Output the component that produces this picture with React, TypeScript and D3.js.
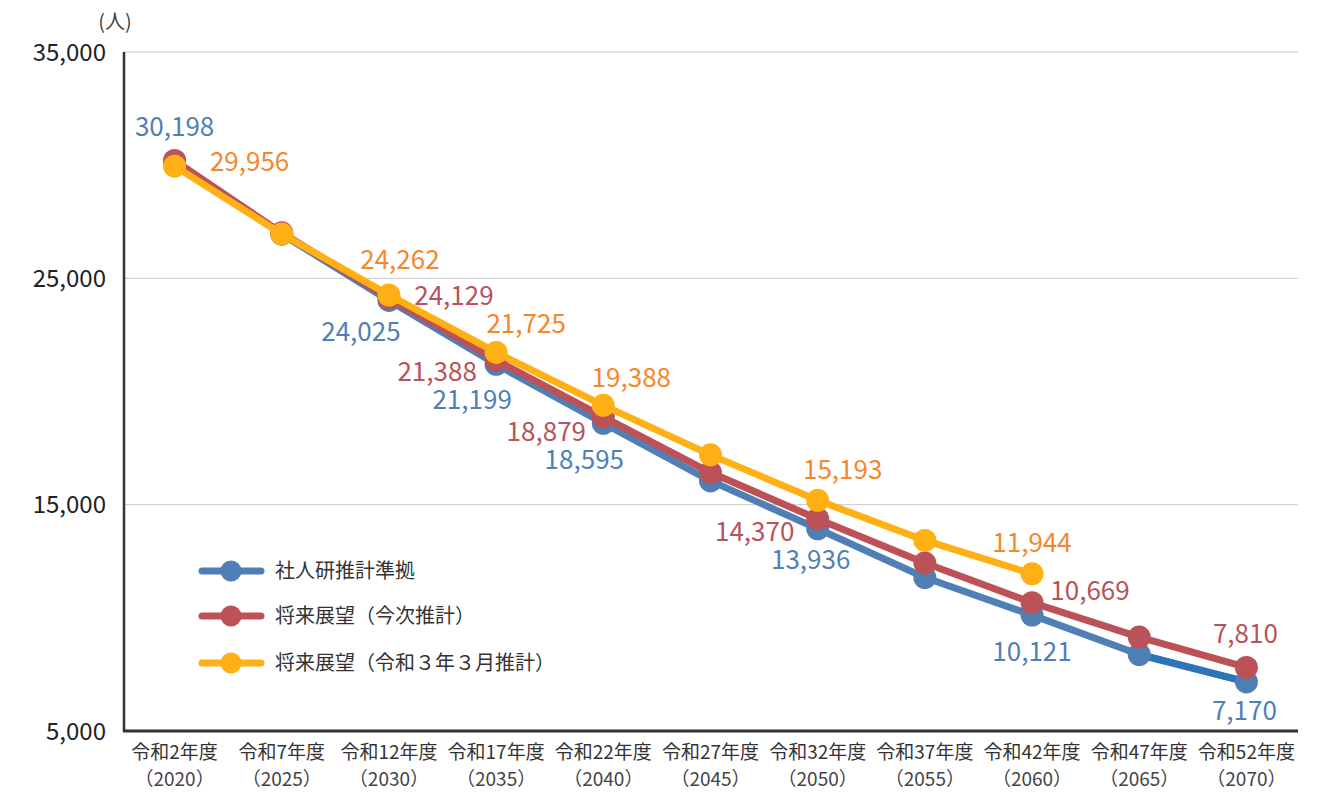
import React from "react";
import * as d3 from "d3";

const categories = ["令和2年度", "令和7年度", "令和12年度", "令和17年度", "令和22年度", "令和27年度", "令和32年度", "令和37年度", "令和42年度", "令和47年度", "令和52年度"];
const years = ["（2020）", "（2025）", "（2030）", "（2035）", "（2040）", "（2045）", "（2050）", "（2055）", "（2060）", "（2065）", "（2070）"];

const blueValues = [30198, 26950, 24025, 21199, 18595, 16050, 13936, 11780, 10121, 8380, 7170];
const redValues = [30198, 27010, 24129, 21388, 18879, 16420, 14370, 12420, 10669, 9150, 7810];
const orangeValues = [29956, 26960, 24262, 21725, 19388, 17200, 15193, 13420, 11944];

const yTicks = [5000, 15000, 25000, 35000];

const seriesNames = ["社人研推計準拠", "将来展望（今次推計）", "将来展望（令和３年３月推計）"];

// label visibility per index and offsets (layout config)
const blueLabelIdx = [0, 2, 3, 4, 6, 8, 10];
const redLabelIdx = [2, 3, 4, 6, 8, 10];
const orangeLabelIdx = [0, 2, 3, 4, 6, 8];
const blueOffsets: Record<number, [number, number]> = { 0: [0, -34], 2: [-28, 31], 3: [-24, 36], 4: [-19, 37], 6: [-7, 31], 8: [0, 37], 10: [-2, 29] };
const redOffsets: Record<number, [number, number]> = { 2: [65, -2], 3: [-59, 12], 4: [-57, 15], 6: [-63, 13], 8: [58, -12], 10: [-1, -34] };
const orangeOffsets: Record<number, [number, number]> = { 0: [75, -4], 2: [11, -35], 3: [30, -29], 4: [28, -27], 6: [25, -30], 8: [0, -31] };

const W = 1329, H = 794;
const FONT = "'Noto Sans CJK JP', 'Noto Sans', sans-serif";

export default function App() {
  const x = d3.scalePoint<number>().domain(d3.range(categories.length)).range([121, 1300]).padding(0.5);
  const y = d3.scaleLinear().domain([5000, 35000]).range([731, 52]);
  const line = d3.line<number>().x((_, i) => x(i)!).y((v) => y(v));
  const tailLine = d3.line<number>().x((_, i) => x(i + 9)!).y((v) => y(v));

  const blueC = "#4f7fb5";
  const blueDark = "#2e74b8";
  const redC = "#bc5157";
  const orangeC = "#ffb014";
  const blueText = "#4f7fb5";
  const redText = "#b9525a";
  const orangeText = "#f5862c";

  const fmt = d3.format(",");

  const series = [
    { vals: blueValues, color: blueC, text: blueText, idx: blueLabelIdx, off: blueOffsets },
    { vals: redValues, color: redC, text: redText, idx: redLabelIdx, off: redOffsets },
    { vals: orangeValues, color: orangeC, text: orangeText, idx: orangeLabelIdx, off: orangeOffsets },
  ];

  const legendColors = [blueC, redC, orangeC];
  const legendY = [571, 616, 663];

  return (
    <svg width={W} height={H} style={{ position: "absolute", left: 0, top: 0, background: "#fff" }} fontFamily={FONT}>
      {/* gridlines */}
      {yTicks.filter((t) => t !== 5000).map((t) => (
        <line key={t} x1={124} x2={1298} y1={y(t)} y2={y(t)} stroke="#c8c8c8" strokeWidth={1} />
      ))}
      {/* y tick labels */}
      {yTicks.map((t) => (
        <text key={t} x={106} y={y(t)} dy="0.36em" textAnchor="end" fontSize={24} fill="#222">{fmt(t)}</text>
      ))}
      <text x={115} y={22} dy="0.35em" textAnchor="middle" fontSize={20} fill="#444">(人)</text>
      {/* axes */}
      <line x1={124} x2={124} y1={52} y2={732} stroke="#333" strokeWidth={2.5} />
      <line x1={123} x2={1298} y1={731} y2={731} stroke="#333" strokeWidth={3} />
      {/* x labels */}
      {categories.map((c, i) => (
        <g key={c}>
          <text x={x(i)!} y={752} dy="0.35em" textAnchor="middle" fontSize={19} fill="#333">{c}</text>
          <text x={x(i)!} y={779} dy="0.35em" textAnchor="middle" fontSize={19} fill="#444">{years[i]}</text>
        </g>
      ))}
      {/* series */}
      {series.map((s, si) => (
        <g key={si}>
          <path d={line(s.vals) || ""} fill="none" stroke={s.color} strokeWidth={7} strokeLinejoin="round" />
          {si === 0 && (
            <path d={tailLine(s.vals.slice(9)) || ""} fill="none" stroke={blueDark} strokeWidth={7} />
          )}
          {s.vals.map((v, i) => (
            <circle key={i} cx={x(i)!} cy={y(v)} r={11.5} fill={s.color} />
          ))}
        </g>
      ))}
      {/* labels */}
      {series.map((s, si) => (
        <g key={"l" + si}>
          {s.idx.map((i) => (
            <text key={i} x={x(i)! + s.off[i][0]} y={y(s.vals[i]) + s.off[i][1]} dy="0.35em" textAnchor="middle" fontSize={26} fill={s.text}>
              {fmt(s.vals[i])}
            </text>
          ))}
        </g>
      ))}
      {/* legend */}
      {seriesNames.map((n, i) => (
        <g key={n}>
          <line x1={202} x2={261} y1={legendY[i]} y2={legendY[i]} stroke={legendColors[i]} strokeWidth={7} strokeLinecap="round" />
          <circle cx={231} cy={legendY[i]} r={10.5} fill={legendColors[i]} />
          <text x={275} y={legendY[i]} dy="0.35em" fontSize={20} fill="#333">{n}</text>
        </g>
      ))}
    </svg>
  );
}
